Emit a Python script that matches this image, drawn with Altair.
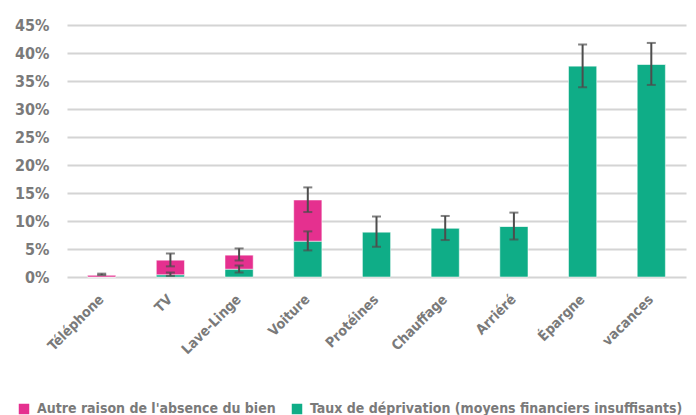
import altair as alt
import pandas as pd

categories = ["Téléphone", "TV", "Lave-Linge", "Voiture", "Protéines",
              "Chauffage", "Arriéré", "Épargne", "vacances"]
taux = [0.0, 0.4, 1.4, 6.4, 8.05, 8.75, 9.05, 37.7, 38.0]
autre = [0.3, 2.6, 2.5, 7.35, 0.0, 0.0, 0.0, 0.0, 0.0]
taux_err_lo = [None, 0.2, 0.8, 4.75, 5.4, 6.6, 6.7, 33.9, 34.3]
taux_err_hi = [None, 0.8, 2.05, 8.15, 10.8, 10.9, 11.5, 41.5, 41.8]
total_err_lo = [0.35, 1.9, 2.95, 11.6, None, None, None, None, None]
total_err_hi = [0.6, 4.2, 5.1, 16.0, None, None, None, None, None]
y_ticks = [0, 5, 10, 15, 20, 25, 30, 35, 40, 45]

S_AUTRE = "Autre raison de l'absence du bien"
S_TAUX = "Taux de déprivation (moyens financiers insuffisants)"
PINK = "#E5308F"
GREEN = "#0FAD87"
GRAY = "#7a7a7a"
FONT = "DejaVu Sans Condensed"

rows = []
for i, c in enumerate(categories):
    rows.append({"cat": c, "serie": S_TAUX, "val": taux[i], "ord": 0})
    rows.append({"cat": c, "serie": S_AUTRE, "val": autre[i], "ord": 1})
bars_df = pd.DataFrame(rows)

err_rows = []
for i, c in enumerate(categories):
    if taux_err_lo[i] is not None:
        err_rows.append({"cat": c, "lo": taux_err_lo[i], "hi": taux_err_hi[i]})
    if total_err_lo[i] is not None:
        err_rows.append({"cat": c, "lo": total_err_lo[i], "hi": total_err_hi[i]})
err_df = pd.DataFrame(err_rows)

xscale = alt.Scale(domain=categories, paddingInner=0.59, paddingOuter=0.3)
yscale = alt.Scale(domain=[0, 45], nice=False)

xaxis = alt.Axis(labelAngle=-45, labelAlign="right", labelBaseline="middle",
                 labelPadding=20, ticks=False, domain=False,
                 labelFont=FONT, labelFontSize=14, labelFontWeight="bold",
                 labelColor=GRAY)
yaxis = alt.Axis(values=y_ticks, labelExpr="datum.value + '%'",
                 labelOverlap=False, tickCount=10,
                 ticks=False, domain=False, labelPadding=18,
                 labelFont=FONT, labelFontSize=16, labelFontWeight="bold",
                 labelColor=GRAY, gridColor="#d4d4d4", gridWidth=2)

ex = alt.X("cat:N", sort=categories, title=None, scale=xscale, axis=xaxis)

bars = alt.Chart(bars_df).mark_bar(stroke="white", strokeWidth=1, strokeOpacity=0.5).encode(
    x=ex,
    y=alt.Y("val:Q", stack="zero", title=None, scale=yscale, axis=yaxis),
    color=alt.Color("serie:N", sort=[S_AUTRE, S_TAUX],
                    scale=alt.Scale(domain=[S_AUTRE, S_TAUX], range=[PINK, GREEN]),
                    legend=alt.Legend(title=None, orient="none", direction="horizontal",
                                      legendX=-50, legendY=377, symbolType="square",
                                      symbolSize=110, symbolStrokeWidth=0,
                                      columnPadding=14, labelOffset=6,
                                      labelFont=FONT, labelFontSize=14,
                                      labelFontWeight="bold", labelColor=GRAY,
                                      labelLimit=500)),
    order=alt.Order("ord:Q", sort="ascending"),
)

rule = alt.Chart(err_df).mark_rule(color="#4d4d4d", strokeWidth=2).encode(
    x=ex, y=alt.Y("lo:Q", title=None, scale=yscale, axis=yaxis), y2="hi:Q")
cap_lo = alt.Chart(err_df).mark_tick(color="#4d4d4d", thickness=2, size=9).encode(
    x=ex, y=alt.Y("lo:Q", title=None, scale=yscale, axis=yaxis))
cap_hi = alt.Chart(err_df).mark_tick(color="#4d4d4d", thickness=2, size=9).encode(
    x=ex, y=alt.Y("hi:Q", title=None, scale=yscale, axis=yaxis))

chart = alt.layer(bars, rule, cap_lo, cap_hi).properties(
    width=619, height=252,
    autosize=alt.AutoSizeParams(type="none"),
    padding={"left": 59, "top": 17, "right": 2, "bottom": 138},
).configure_view(stroke=None)

chart.save("out.html", embed_options={"renderer": "svg", "actions": False})
